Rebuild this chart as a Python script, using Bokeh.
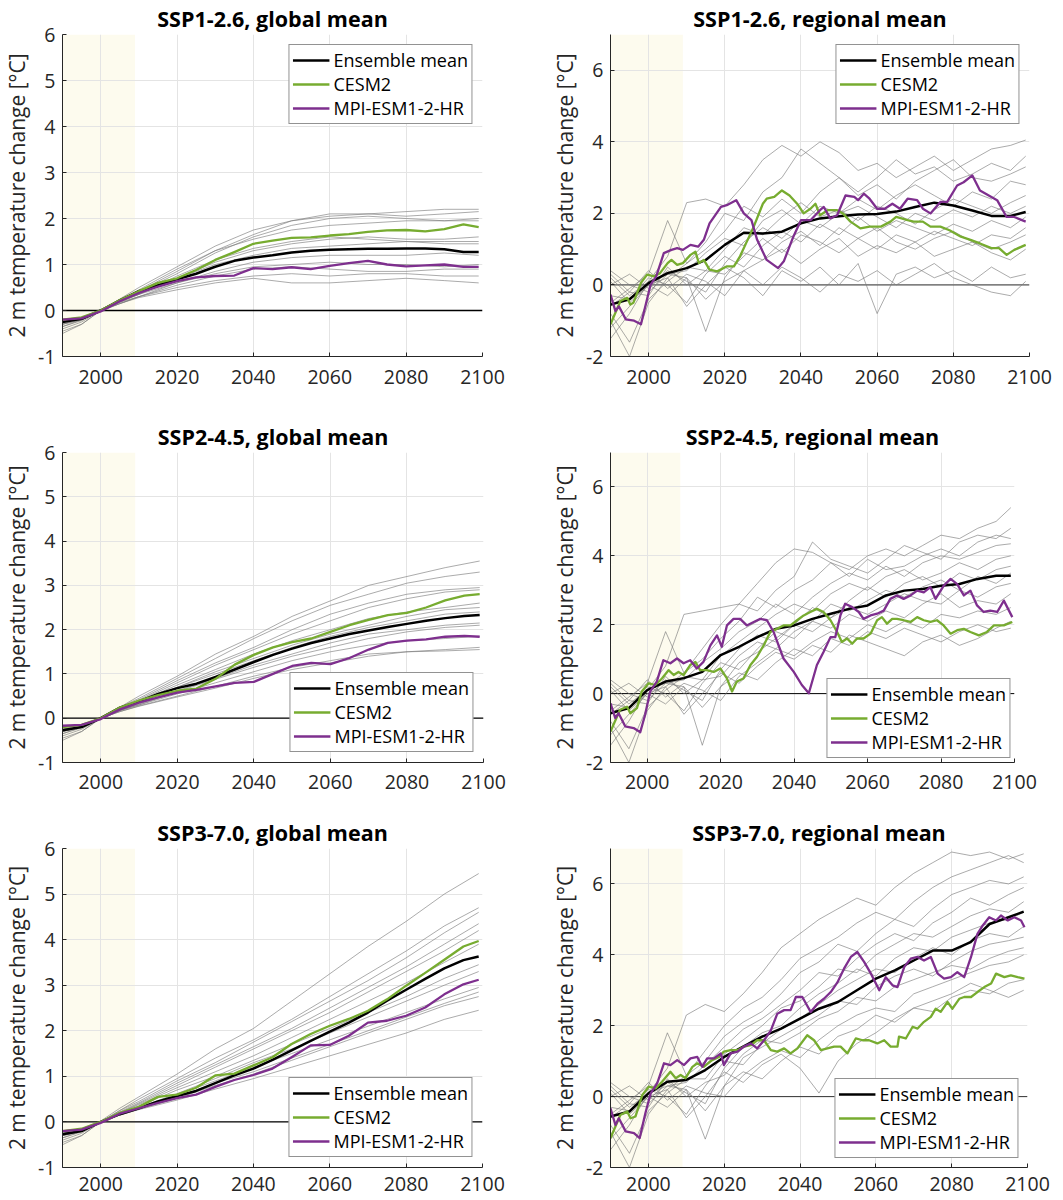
from bokeh.plotting import figure
from bokeh.layouts import column, row
from bokeh.models import Range1d, FixedTicker, BoxAnnotation, Span, Legend, LegendItem
from bokeh.embed import file_html
from bokeh.resources import INLINE

FONT = "Open Sans"
TXT = "#262626"
C_MEAN = "#000000"
C_CESM = "#77AC30"
C_MPI = "#7E2F8E"
C_MEMBER = "#7a7a7a"
SHADE = "#FDFBEE"
GRID = "#e4e4e4"

shade_start = 1990
shade_end = 2009
x_ticks = [2000, 2020, 2040, 2060, 2080, 2100]
y_ticks_global = [-1, 0, 1, 2, 3, 4, 5, 6]
y_ticks_regional = [-2, 0, 2, 4, 6]

titles = ["SSP1-2.6, global mean", "SSP1-2.6, regional mean",
          "SSP2-4.5, global mean", "SSP2-4.5, regional mean",
          "SSP3-7.0, global mean", "SSP3-7.0, regional mean"]
legend_labels = ["Ensemble mean", "CESM2", "MPI-ESM1-2-HR"]
y_label = "2 m temperature change [°C]"

# common year grids
years_5 = [1990, 1995, 2000, 2005, 2010, 2015, 2020, 2025, 2030, 2035, 2040, 2045,
           2050, 2055, 2060, 2065, 2070, 2075, 2080, 2085, 2090, 2095, 2099]
years_members_global = [1990, 1995, 2000, 2005, 2010, 2020, 2030, 2040, 2050, 2060,
                        2070, 2080, 2090, 2099]

# ---------------- global means ----------------
g126_mean = [-0.25, -0.18, 0.0, 0.22, 0.42, 0.55, 0.68, 0.8, 0.95, 1.08, 1.15, 1.2,
             1.26, 1.3, 1.32, 1.33, 1.34, 1.34, 1.35, 1.35, 1.33, 1.27, 1.27]
g126_cesm = [-0.2, -0.15, 0.0, 0.22, 0.42, 0.6, 0.7, 0.88, 1.1, 1.27, 1.45, 1.52,
             1.58, 1.59, 1.63, 1.66, 1.71, 1.74, 1.75, 1.72, 1.77, 1.87, 1.81]
g126_mpi = [-0.2, -0.17, -0.02, 0.2, 0.38, 0.52, 0.64, 0.72, 0.75, 0.76, 0.92, 0.9,
            0.94, 0.9, 0.97, 1.03, 1.08, 1.0, 0.96, 0.98, 1.0, 0.95, 0.95]
g126_members = [
    [-0.35, -0.2, 0.0, 0.25, 0.5, 0.95, 1.4, 1.75, 1.95, 2.05, 2.1, 2.15, 2.2, 2.2],
    [-0.3, -0.15, 0.02, 0.22, 0.45, 0.9, 1.3, 1.65, 1.95, 2.1, 2.1, 2.05, 2.1, 2.15],
    [-0.25, -0.2, -0.02, 0.2, 0.4, 0.8, 1.25, 1.6, 1.85, 2.0, 2.05, 2.0, 1.95, 2.0],
    [-0.4, -0.25, 0.0, 0.22, 0.42, 0.85, 1.3, 1.55, 1.75, 1.85, 1.9, 1.95, 1.95, 1.95],
    [-0.2, -0.15, 0.0, 0.2, 0.35, 0.7, 1.05, 1.3, 1.45, 1.55, 1.6, 1.55, 1.55, 1.6],
    [-0.3, -0.2, 0.0, 0.18, 0.35, 0.75, 1.1, 1.35, 1.5, 1.6, 1.55, 1.5, 1.5, 1.5],
    [-0.25, -0.15, 0.0, 0.2, 0.38, 0.7, 1.0, 1.2, 1.35, 1.4, 1.45, 1.5, 1.45, 1.45],
    [-0.3, -0.2, -0.02, 0.15, 0.3, 0.6, 0.85, 1.05, 1.15, 1.2, 1.2, 1.2, 1.25, 1.2],
    [-0.45, -0.3, 0.0, 0.2, 0.35, 0.6, 0.8, 0.95, 1.0, 1.05, 1.0, 1.0, 0.95, 1.0],
    [-0.25, -0.18, 0.0, 0.15, 0.3, 0.55, 0.75, 0.9, 0.95, 0.9, 0.85, 0.85, 0.9, 0.9],
    [-0.35, -0.22, 0.0, 0.18, 0.3, 0.5, 0.65, 0.75, 0.8, 0.75, 0.8, 0.8, 0.75, 0.75],
    [-0.5, -0.3, 0.0, 0.15, 0.28, 0.45, 0.6, 0.7, 0.6, 0.6, 0.65, 0.7, 0.65, 0.6],
]

g245_mean = [-0.27, -0.2, 0.0, 0.24, 0.38, 0.55, 0.68, 0.78, 0.93, 1.1, 1.27, 1.43,
             1.57, 1.7, 1.8, 1.9, 1.98, 2.06, 2.13, 2.2, 2.26, 2.31, 2.33]
g245_cesm = [-0.2, -0.15, 0.0, 0.24, 0.4, 0.52, 0.62, 0.67, 0.89, 1.21, 1.43, 1.6,
             1.72, 1.8, 1.95, 2.1, 2.22, 2.33, 2.38, 2.5, 2.66, 2.77, 2.8]
g245_mpi = [-0.17, -0.15, -0.02, 0.2, 0.35, 0.47, 0.58, 0.64, 0.72, 0.8, 0.82, 1.0,
            1.18, 1.25, 1.22, 1.36, 1.55, 1.7, 1.75, 1.78, 1.84, 1.86, 1.84]
g245_members = [
    [-0.35, -0.2, 0.0, 0.25, 0.5, 0.95, 1.45, 1.85, 2.3, 2.65, 3.0, 3.2, 3.4, 3.55],
    [-0.3, -0.18, 0.02, 0.25, 0.45, 0.9, 1.35, 1.8, 2.2, 2.55, 2.8, 3.05, 3.2, 3.3],
    [-0.25, -0.15, 0.0, 0.22, 0.42, 0.85, 1.25, 1.6, 2.0, 2.35, 2.6, 2.8, 2.9, 2.95],
    [-0.4, -0.25, 0.0, 0.2, 0.4, 0.8, 1.2, 1.55, 1.9, 2.2, 2.5, 2.7, 2.85, 2.9],
    [-0.3, -0.2, 0.0, 0.2, 0.38, 0.75, 1.1, 1.45, 1.75, 2.0, 2.25, 2.4, 2.5, 2.6],
    [-0.2, -0.15, 0.0, 0.2, 0.35, 0.7, 1.05, 1.35, 1.65, 1.9, 2.1, 2.3, 2.45, 2.5],
    [-0.3, -0.2, -0.02, 0.18, 0.35, 0.7, 1.0, 1.3, 1.6, 1.85, 2.05, 2.2, 2.35, 2.4],
    [-0.35, -0.22, 0.0, 0.18, 0.32, 0.62, 0.9, 1.2, 1.45, 1.7, 1.9, 2.0, 2.1, 2.15],
    [-0.25, -0.18, 0.0, 0.17, 0.3, 0.6, 0.88, 1.15, 1.4, 1.6, 1.8, 1.95, 2.05, 2.1],
    [-0.45, -0.3, 0.0, 0.18, 0.3, 0.55, 0.8, 1.05, 1.3, 1.5, 1.65, 1.75, 1.8, 1.85],
    [-0.3, -0.2, 0.0, 0.15, 0.28, 0.5, 0.72, 0.95, 1.15, 1.3, 1.45, 1.5, 1.55, 1.6],
    [-0.5, -0.3, 0.0, 0.15, 0.27, 0.48, 0.68, 0.9, 1.1, 1.25, 1.4, 1.5, 1.52, 1.55],
]

g370_mean = [-0.27, -0.2, 0.0, 0.17, 0.3, 0.45, 0.57, 0.68, 0.85, 1.02, 1.17, 1.36,
             1.57, 1.78, 1.98, 2.18, 2.4, 2.66, 2.9, 3.14, 3.37, 3.55, 3.63]
g370_cesm = [-0.2, -0.15, 0.0, 0.2, 0.33, 0.55, 0.6, 0.75, 1.02, 1.06, 1.24, 1.42,
             1.71, 1.93, 2.11, 2.26, 2.44, 2.69, 2.99, 3.27, 3.56, 3.85, 3.97]
g370_mpi = [-0.2, -0.17, -0.02, 0.18, 0.3, 0.42, 0.52, 0.6, 0.77, 0.92, 1.03, 1.17,
            1.42, 1.68, 1.69, 1.89, 2.18, 2.22, 2.33, 2.51, 2.8, 3.02, 3.12]
g370_members = [
    [-0.3, -0.15, 0.02, 0.3, 0.55, 1.05, 1.6, 2.05, 2.65, 3.25, 3.85, 4.4, 5.0, 5.45],
    [-0.35, -0.2, 0.0, 0.25, 0.5, 0.95, 1.4, 1.8, 2.25, 2.75, 3.25, 3.75, 4.3, 4.7],
    [-0.25, -0.15, 0.0, 0.25, 0.45, 0.9, 1.3, 1.75, 2.2, 2.65, 3.1, 3.6, 4.15, 4.6],
    [-0.4, -0.25, 0.0, 0.22, 0.42, 0.85, 1.25, 1.65, 2.05, 2.5, 2.95, 3.4, 3.9, 4.35],
    [-0.3, -0.2, 0.0, 0.2, 0.4, 0.8, 1.2, 1.6, 2.0, 2.4, 2.85, 3.3, 3.75, 4.2],
    [-0.2, -0.15, 0.0, 0.2, 0.38, 0.75, 1.1, 1.45, 1.85, 2.25, 2.65, 3.05, 3.5, 3.9],
    [-0.3, -0.2, -0.02, 0.18, 0.35, 0.7, 1.0, 1.35, 1.7, 2.05, 2.4, 2.75, 3.15, 3.45],
    [-0.35, -0.22, 0.0, 0.18, 0.32, 0.62, 0.95, 1.3, 1.6, 1.95, 2.3, 2.65, 3.0, 3.3],
    [-0.25, -0.18, 0.0, 0.17, 0.3, 0.6, 0.9, 1.2, 1.5, 1.8, 2.1, 2.4, 2.7, 2.95],
    [-0.45, -0.3, 0.0, 0.18, 0.3, 0.55, 0.85, 1.1, 1.4, 1.7, 2.0, 2.3, 2.6, 2.85],
    [-0.3, -0.2, 0.0, 0.15, 0.28, 0.52, 0.8, 1.05, 1.35, 1.65, 1.95, 2.25, 2.55, 2.75],
    [-0.5, -0.3, 0.0, 0.15, 0.27, 0.48, 0.72, 0.95, 1.2, 1.45, 1.7, 1.95, 2.25, 2.45],
]

# ---------------- regional means ----------------
r126_mean = [-0.55, -0.4, 0.05, 0.33, 0.47, 0.7, 1.12, 1.46, 1.44, 1.49, 1.72, 1.86,
             1.92, 1.97, 1.98, 2.05, 2.18, 2.3, 2.22, 2.08, 1.93, 1.93, 2.04]
r126_cesm_years = [1990, 1992.6, 1994.4, 1995.2, 1996, 1998, 1999.6, 2001.4, 2003, 2005,
                   2006, 2007.5, 2009, 2011, 2012.3, 2013.2, 2014.5, 2016, 2018, 2020.6,
                   2022.4, 2024, 2026, 2027.6, 2030, 2031, 2033, 2035, 2037, 2039,
                   2040.7, 2042.5, 2043.8, 2045, 2047, 2049.5, 2051, 2053, 2055.6, 2058,
                   2061, 2063.5, 2065, 2068, 2069.6, 2072, 2074, 2076.6, 2079, 2082,
                   2084.5, 2087, 2090, 2092, 2094, 2096, 2099]
r126_cesm = [-1.1, -0.45, -0.36, -0.55, -0.5, 0.06, 0.29, 0.24, 0.33, 0.61,
             0.7, 0.56, 0.61, 0.84, 0.93, 0.61, 0.7, 0.43, 0.38, 0.52,
             0.52, 0.8, 1.26, 1.63, 2.27, 2.41, 2.46, 2.64, 2.5, 2.27,
             2.0, 2.13, 2.27, 1.95, 2.09, 2.09, 2.0, 1.77, 1.58, 1.63,
             1.63, 1.77, 1.9, 1.81, 1.77, 1.77, 1.63, 1.63, 1.53, 1.35,
             1.26, 1.16, 1.03, 1.03, 0.84, 0.98, 1.12]
r126_mpi_years = [1990, 1991.3, 1992.2, 1994, 1996.2, 1998, 2000.5, 2002, 2004, 2006,
                  2007.5, 2009, 2011, 2013, 2014.5, 2016, 2019, 2020.5, 2023, 2025,
                  2027, 2028.5, 2031, 2034, 2035.5, 2038, 2040, 2042.5, 2045, 2046,
                  2047.7, 2049.5, 2051.7, 2054, 2055, 2056.5, 2058, 2060, 2062, 2064,
                  2066, 2068, 2070.5, 2072, 2074, 2076.6, 2078.4, 2081, 2082.7, 2085,
                  2087, 2090, 2091.5, 2094, 2096, 2099]
r126_mpi = [-0.27, -0.73, -0.6, -0.96, -1.0, -1.1, 0.0, 0.24, 0.89, 0.98,
            1.03, 0.98, 1.12, 1.07, 1.26, 1.72, 2.18, 2.23, 2.37, 2.0,
            1.81, 1.26, 0.7, 0.47, 0.66, 1.35, 1.81, 1.81, 2.09, 2.18,
            1.86, 1.95, 2.5, 2.46, 2.37, 2.55, 2.41, 2.13, 2.13, 2.27,
            2.13, 2.41, 2.37, 2.13, 2.0, 2.32, 2.32, 2.78, 2.87, 3.06,
            2.64, 2.46, 2.37, 1.9, 1.9, 1.77]
r126_members = [
    [0.2, -0.3, 0.1, 0.8, 2.3, 2.4, 2.2, 2.8, 3.5, 3.9, 3.6, 4.0, 3.7, 3.2, 3.4, 3.0, 3.3, 3.6, 3.2, 3.5, 3.8, 3.9, 4.05],
    [-0.5, -0.1, 0.3, 1.8, 0.6, 1.2, 2.0, 1.8, 2.6, 3.0, 3.8, 3.4, 3.0, 2.6, 3.0, 3.5, 3.1, 3.3, 2.9, 3.1, 3.4, 3.2, 3.6],
    [-1.2, -0.6, 0.0, 0.2, 0.6, 1.0, 1.5, 2.2, 1.9, 2.4, 2.0, 2.6, 3.0, 2.5, 2.8, 2.4, 2.9, 3.2, 3.5, 3.0, 2.9, 3.1, 3.3],
    [0.4, 0.0, -0.2, 0.3, 0.4, 0.9, 1.3, 1.1, 1.8, 2.1, 1.7, 2.2, 2.0, 2.4, 2.1, 2.5, 2.8, 2.5, 2.2, 2.6, 2.4, 2.9, 2.8],
    [-0.8, -1.6, -0.4, 0.1, 0.5, 0.4, 1.0, 1.6, 1.4, 1.9, 2.3, 1.9, 2.1, 1.8, 2.2, 2.0, 1.7, 2.1, 2.4, 2.2, 2.0, 2.3, 2.5],
    [0.0, 0.3, -0.1, 0.4, 0.1, -0.2, 0.6, 1.2, 1.6, 1.3, 1.8, 1.6, 2.0, 2.2, 1.9, 1.6, 2.0, 1.8, 2.1, 1.9, 2.2, 2.0, 2.2],
    [-0.3, -0.4, 0.2, 0.0, -0.5, 0.3, 0.8, 0.5, 1.1, 1.5, 1.2, 1.7, 1.4, 1.9, 1.5, 1.8, 1.6, 1.4, 1.7, 1.5, 1.8, 1.6, 1.9],
    [-1.5, -0.8, 0.1, 0.3, 0.2, -1.3, 0.2, 0.9, 0.7, 1.2, 1.5, 1.1, 1.6, 1.3, 1.0, 1.4, 1.2, 1.5, 1.3, 1.1, 1.4, 1.3, 1.6],
    [0.3, -0.2, -0.3, 0.5, 0.0, 0.4, 0.3, 0.8, 1.3, 0.9, 1.4, 1.2, 0.9, 1.3, 1.6, 1.2, 1.0, 1.3, 1.5, 1.2, 1.0, 1.2, 1.4],
    [-0.6, -0.2, 0.4, -0.1, 0.3, 0.1, -0.3, 0.4, 0.7, 1.0, 0.6, 1.0, 1.3, 0.8, 1.1, 0.9, 1.2, 0.8, 1.0, 1.2, 0.9, 0.7, 1.0],
    [-1.0, -2.0, -0.5, 0.2, -0.6, 0.0, 0.5, 0.2, -0.3, 0.4, 0.1, 0.5, 0.0, 0.6, -0.8, 0.3, 0.5, 0.2, 0.4, 0.1, 0.5, 0.2, 0.3],
    [0.1, -0.5, 0.0, -0.3, 0.2, -0.4, 0.1, 0.4, 0.0, 0.5, 0.2, -0.2, 0.3, 0.1, 0.4, 0.0, 0.3, 0.6, 0.2, 0.0, -0.2, -0.3, 0.1],
]

r245_mean = [-0.57, -0.42, 0.1, 0.35, 0.45, 0.63, 1.12, 1.36, 1.64, 1.88, 1.98, 2.17,
             2.32, 2.46, 2.56, 2.85, 2.99, 3.04, 3.13, 3.18, 3.33, 3.42, 3.42]
r245_cesm_years = [1990, 1992.6, 1994.5, 1995.4, 1997.2, 1998.5, 2000.4, 2002.2, 2004, 2005.8,
                   2007.2, 2008.5, 2009.9, 2011.7, 2013.1, 2014.4, 2016.2, 2018.1, 2019.9, 2021.7,
                   2023.1, 2024.4, 2026.2, 2028.1, 2029.9, 2031.7, 2033.5, 2035.3, 2037.1, 2039,
                   2040.8, 2042.6, 2044.4, 2046.2, 2048, 2049.9, 2051.7, 2053, 2054.4, 2055.8,
                   2057.1, 2058.9, 2060.8, 2062.6, 2063.9, 2065.3, 2066.7, 2068, 2069.8, 2071.7,
                   2073.5, 2075.3, 2077.1, 2078.9, 2080.7, 2082.6, 2084.4, 2086.2, 2088, 2090.3,
                   2092.5, 2094.4, 2097.1, 2099.4]
r245_cesm = [-1.1, -0.47, -0.38, -0.57, -0.42, 0.06, 0.3, 0.25, 0.44, 0.68,
             0.54, 0.63, 0.54, 0.83, 0.92, 0.68, 0.68, 0.63, 0.73, 0.44,
             0.06, 0.35, 0.44, 0.83, 1.07, 1.4, 1.79, 1.88, 1.98, 1.98,
             2.13, 2.27, 2.37, 2.46, 2.37, 2.13, 1.79, 1.5, 1.6, 1.45,
             1.6, 1.6, 1.74, 2.13, 2.22, 2.03, 2.17, 2.17, 2.13, 2.08,
             2.22, 2.13, 2.08, 2.13, 1.98, 1.74, 1.84, 1.88, 1.79, 1.69,
             1.79, 1.98, 1.98, 2.08]
r245_mpi_years = [1990, 1991.3, 1992.2, 1994, 1996.3, 1998.1, 1999.4, 2000.8, 2002.6, 2004.4,
                  2006.3, 2008.1, 2009.9, 2011.7, 2013.5, 2015.3, 2017.2, 2019, 2020.3, 2021.7,
                  2023.5, 2025.3, 2027.1, 2029, 2030.8, 2032.6, 2034.4, 2037.1, 2039.9, 2042.1,
                  2044, 2046.2, 2048, 2049.9, 2051.2, 2052.6, 2053.9, 2055.8, 2057.6, 2058.9,
                  2060.8, 2062.6, 2064.4, 2066.2, 2068, 2069.8, 2071.7, 2073.5, 2075.3, 2077.1,
                  2078.5, 2080.7, 2082.6, 2084.4, 2086.2, 2088, 2089.8, 2091.6, 2093.4, 2095.3,
                  2097.1, 2099.4]
r245_mpi = [-0.28, -0.71, -0.57, -0.95, -1.0, -1.12, -0.62, 0.06, 0.35, 0.97,
            0.88, 1.02, 0.88, 0.97, 0.73, 0.92, 1.4, 1.69, 1.36, 1.98,
            2.17, 2.17, 1.98, 2.08, 2.17, 2.13, 1.79, 1.02, 0.63, 0.25,
            0.01, 0.83, 1.21, 1.64, 1.64, 2.27, 2.61, 2.51, 2.37, 2.17,
            2.27, 2.32, 2.41, 2.75, 2.85, 2.75, 2.85, 2.99, 2.94, 3.09,
            2.75, 3.13, 3.33, 3.18, 2.85, 2.99, 2.56, 2.37, 2.41, 2.37,
            2.7, 2.22]
r245_members = [
    [0.2, -0.3, 0.1, 0.8, 2.3, 2.4, 2.5, 2.6, 3.2, 3.8, 4.2, 4.1, 3.8, 3.6, 4.0, 4.2, 4.0, 4.3, 4.6, 4.5, 4.8, 5.0, 5.4],
    [-0.5, -0.1, 0.3, 1.8, 0.6, 1.3, 2.0, 2.6, 2.4, 3.0, 3.4, 4.4, 3.9, 3.7, 3.5, 3.9, 4.3, 4.1, 3.9, 4.4, 4.6, 4.5, 4.8],
    [-1.2, -0.6, 0.0, 0.2, 0.6, 1.0, 1.6, 2.1, 2.8, 2.5, 3.0, 3.3, 3.8, 3.4, 3.9, 3.6, 3.7, 4.0, 4.2, 4.0, 4.4, 4.6, 4.5],
    [0.4, 0.0, -0.2, 0.3, 0.4, 0.9, 1.3, 1.8, 2.1, 2.6, 2.3, 2.8, 3.2, 3.5, 3.3, 3.7, 3.4, 3.8, 4.0, 3.9, 4.1, 4.3, 4.35],
    [-0.8, -1.6, -0.4, 0.1, 0.5, 0.4, 1.1, 1.5, 1.9, 2.3, 2.6, 2.4, 2.9, 3.2, 3.0, 3.4, 3.6, 3.3, 3.5, 3.8, 3.6, 3.9, 4.0],
    [0.0, 0.3, -0.1, 0.4, 0.1, -0.2, 0.7, 1.3, 1.7, 1.5, 2.0, 2.5, 2.2, 2.7, 3.1, 2.8, 3.2, 3.4, 3.1, 3.5, 3.3, 3.6, 3.7],
    [-0.3, -0.4, 0.2, 0.0, -0.5, 0.3, 0.9, 0.7, 1.3, 1.8, 1.6, 2.1, 2.6, 2.4, 2.7, 3.0, 2.8, 3.1, 3.3, 3.0, 3.4, 3.2, 3.5],
    [-1.5, -0.8, 0.1, 0.3, 0.2, -1.5, 0.2, 0.9, 1.2, 1.6, 2.0, 1.8, 2.2, 2.5, 2.3, 2.6, 2.9, 2.7, 2.6, 3.0, 2.8, 3.1, 3.2],
    [0.3, -0.2, -0.3, 0.5, 0.0, 0.4, 0.5, 1.1, 1.5, 1.3, 1.8, 2.1, 1.9, 2.3, 2.1, 2.4, 2.2, 2.6, 2.9, 2.5, 2.7, 2.6, 2.9],
    [-0.6, -0.2, 0.4, -0.1, 0.3, 0.1, -0.2, 0.5, 0.9, 1.3, 1.1, 1.5, 1.8, 1.6, 2.0, 1.8, 2.1, 1.9, 2.3, 2.2, 2.4, 2.3, 2.5],
    [-1.0, -2.0, -0.5, 0.2, -0.6, 0.0, 0.6, 0.3, 0.8, 1.2, 1.0, 1.4, 1.2, 1.7, 1.5, 1.3, 1.1, 1.5, 1.7, 1.4, 1.6, 1.9, 2.1],
    [0.1, -0.5, 0.0, -0.3, 0.2, -0.4, 0.2, 0.6, 0.4, 0.9, 1.3, 1.1, 1.6, 1.4, 1.8, 1.6, 1.9, 1.7, 1.5, 1.8, 2.0, 1.8, 1.9],
]

r370_mean = [-0.56, -0.42, 0.09, 0.42, 0.47, 0.75, 1.12, 1.41, 1.69, 1.92, 2.2, 2.48,
             2.67, 3.0, 3.33, 3.56, 3.84, 4.12, 4.12, 4.36, 4.87, 5.06, 5.22]
r370_cesm_years = [1990, 1992.6, 1994.4, 1995.3, 1996.6, 1998.4, 2000.1, 2001.9, 2003.6, 2005.8,
                   2007.2, 2008.5, 2009.8, 2011.6, 2012.9, 2014.6, 2016.8, 2018.6, 2019.9, 2021.7,
                   2023.5, 2025.2, 2027, 2028.7, 2030.5, 2032.3, 2034, 2035.8, 2037.5, 2039.3,
                   2041.9, 2043.7, 2045.5, 2047.2, 2049, 2050.7, 2052.5, 2054.7, 2056.5, 2058.2,
                   2060.4, 2062.2, 2063.9, 2065.7, 2066.1, 2067.9, 2069.7, 2071, 2072.7, 2074.5,
                   2075.8, 2077.1, 2078.9, 2080.2, 2082, 2083.3, 2085.1, 2086.8, 2088.6, 2090.4,
                   2091.7, 2093.9, 2095.6, 2097.4, 2099.2]
r370_cesm = [-1.17, -0.52, -0.42, -0.61, -0.56, 0.05, 0.28, 0.23, 0.42, 0.7,
             0.52, 0.61, 0.52, 0.84, 0.94, 0.84, 1.03, 1.12, 1.27, 1.31,
             1.31, 1.41, 1.45, 1.59, 1.59, 1.31, 1.27, 1.36, 1.22, 1.36,
             1.73, 1.59, 1.31, 1.36, 1.41, 1.41, 1.22, 1.64, 1.59, 1.59,
             1.5, 1.59, 1.41, 1.41, 1.69, 1.64, 1.97, 1.92, 2.11, 2.25,
             2.48, 2.39, 2.67, 2.48, 2.76, 2.81, 2.81, 2.95, 3.09, 3.19,
             3.47, 3.37, 3.42, 3.37, 3.33]
r370_mpi_years = [1990, 1991.3, 1992.2, 1994, 1996.2, 1997.7, 1999.2, 2000.6, 2002.3, 2004.1,
                  2005.8, 2007.6, 2009.4, 2011.1, 2012.9, 2014.2, 2015.5, 2017.3, 2019.1, 2019.9,
                  2021.7, 2023.5, 2025.2, 2027, 2028.7, 2030.5, 2032.3, 2034, 2035.8, 2037.5,
                  2038.9, 2040.6, 2042.8, 2044.6, 2046.3, 2048.1, 2049.9, 2051.6, 2053.4, 2055.1,
                  2056.9, 2058.7, 2060.9, 2062.6, 2064.4, 2065.7, 2067.5, 2069.2, 2071, 2072.7,
                  2074.5, 2076.3, 2078, 2079.8, 2081.5, 2083.3, 2085.1, 2086.8, 2088.2, 2089.9,
                  2091.7, 2093, 2094.8, 2096.5, 2098.3, 2099.2]
r370_mpi = [-0.33, -0.8, -0.61, -0.98, -1.03, -1.17, -0.47, 0.09, 0.37, 0.94,
            0.89, 1.03, 0.89, 1.08, 1.12, 0.84, 1.08, 1.08, 1.22, 0.89,
            1.22, 1.27, 1.41, 1.5, 1.36, 1.59, 1.87, 2.34, 2.44, 2.44,
            2.81, 2.81, 2.39, 2.62, 2.76, 2.95, 3.23, 3.61, 3.94, 4.08,
            3.8, 3.47, 3.0, 3.37, 3.14, 3.09, 3.66, 3.89, 3.94, 3.84,
            3.94, 3.47, 3.33, 3.37, 3.51, 3.37, 3.94, 4.59, 4.83, 5.06,
            4.97, 5.11, 4.97, 5.06, 4.97, 4.78]
r370_members = [
    [0.2, -0.3, 0.1, 0.8, 2.3, 2.6, 2.4, 2.9, 3.5, 4.2, 4.6, 5.0, 5.3, 5.6, 5.4, 5.9, 6.3, 6.6, 6.9, 6.8, 6.9, 6.7, 6.85],
    [-0.5, -0.1, 0.3, 1.8, 0.6, 1.3, 2.0, 2.5, 2.8, 3.3, 3.9, 4.2, 4.5, 4.9, 5.2, 5.0, 5.5, 5.9, 6.2, 6.4, 6.6, 6.8, 6.6],
    [-1.2, -0.6, 0.0, 0.2, 0.6, 1.0, 1.7, 2.1, 2.4, 2.9, 3.5, 3.8, 4.3, 4.1, 4.6, 5.0, 4.8, 5.3, 5.7, 5.9, 6.1, 6.0, 6.2],
    [0.4, 0.0, -0.2, 0.3, 0.4, 0.9, 1.4, 1.9, 2.2, 2.6, 3.0, 3.5, 3.4, 3.9, 4.3, 4.6, 4.4, 4.9, 5.2, 5.6, 5.4, 5.7, 5.9],
    [-0.8, -1.6, -0.4, 0.1, 0.5, 0.5, 1.2, 1.6, 2.0, 2.5, 2.7, 3.1, 3.6, 3.5, 4.0, 4.3, 4.6, 4.5, 4.8, 5.1, 5.3, 5.2, 5.5],
    [0.0, 0.3, -0.1, 0.4, 0.1, -0.2, 0.8, 1.4, 1.8, 2.0, 2.5, 2.9, 3.2, 3.6, 3.4, 3.9, 4.2, 4.1, 4.5, 4.7, 4.9, 5.0, 5.2],
    [-0.3, -0.4, 0.2, 0.0, -0.5, 0.3, 1.0, 0.9, 1.5, 1.9, 2.2, 2.6, 3.0, 3.3, 3.6, 3.5, 3.9, 4.2, 4.0, 4.4, 4.6, 4.5, 4.8],
    [-1.5, -0.8, 0.1, 0.3, 0.2, -1.2, 0.3, 1.1, 1.4, 1.7, 2.0, 2.3, 2.7, 2.6, 3.1, 3.4, 3.6, 3.4, 3.8, 4.1, 4.3, 4.4, 4.5],
    [0.3, -0.2, -0.3, 0.5, 0.0, 0.4, 0.6, 1.2, 1.6, 1.5, 1.8, 2.2, 2.4, 2.8, 2.7, 3.1, 3.3, 3.5, 3.7, 3.6, 3.9, 4.1, 4.2],
    [-0.6, -0.2, 0.4, -0.1, 0.3, 0.1, 0.0, 0.6, 1.0, 1.3, 1.1, 1.6, 2.0, 2.3, 2.5, 2.4, 2.9, 3.1, 3.3, 3.5, 3.7, 3.8, 4.0],
    [-1.0, -2.0, -0.5, 0.2, -0.6, 0.0, 0.7, 0.4, 0.9, 1.2, 0.8, 0.1, 1.0, 1.5, 1.8, 2.2, 2.5, 2.4, 2.8, 3.0, 2.9, 3.2, 3.3],
    [0.1, -0.5, 0.0, -0.3, 0.2, -0.4, 0.3, 0.7, 0.5, 1.0, 1.4, 1.2, 1.7, 1.9, 2.3, 2.1, 2.5, 2.7, 2.9, 3.2, 3.0, 2.8, 3.0],
]


def trim(x, y):
    n = min(len(x), len(y))
    return list(x[:n]), list(y[:n])


def panel(title, ylim, yticks, mem_years, members, mean_x, mean_y, cesm_x, cesm_y,
          mpi_x, mpi_y, size, x_standoff, legend_loc, legend_margin, zero_color, zero_width):
    w, h, bl, br, bt, bb = size
    p = figure(width=w, height=h, x_range=Range1d(1990, 2100), y_range=Range1d(*ylim),
               output_backend="svg", toolbar_location=None,
               min_border_left=bl, min_border_right=br, min_border_top=bt,
               min_border_bottom=bb, background_fill_color="white",
               border_fill_color="white")
    p.outline_line_color = None
    p.add_layout(BoxAnnotation(left=shade_start, right=shade_end, fill_color=SHADE,
                               fill_alpha=1.0, line_color=None, level="image"))
    p.xgrid.ticker = FixedTicker(ticks=x_ticks)
    p.ygrid.ticker = FixedTicker(ticks=yticks)
    for g in (p.xgrid, p.ygrid):
        g.grid_line_color = GRID
        g.grid_line_width = 1
    p.xaxis.ticker = FixedTicker(ticks=x_ticks)
    p.yaxis.ticker = FixedTicker(ticks=yticks)
    p.yaxis.major_label_overrides = {t: ("-" + str(abs(t)) if t < 0 else str(t)) for t in yticks}
    p.yaxis.axis_label = y_label
    for ax in p.axis:
        ax.axis_line_color = TXT
        ax.axis_line_width = 1
        ax.major_tick_line_color = TXT
        ax.major_tick_in = 4
        ax.major_tick_out = 0
        ax.minor_tick_line_color = None
        ax.major_label_text_font = FONT
        ax.major_label_text_font_size = "19.5px"
        ax.major_label_text_color = TXT
        ax.axis_label_text_font = FONT
        ax.axis_label_text_font_size = "21px"
        ax.axis_label_text_font_style = "normal"
        ax.axis_label_text_color = TXT
        ax.axis_label_standoff = 4
    p.xaxis.major_label_standoff = x_standoff
    p.yaxis.major_label_standoff = 7

    p.title.text = title
    p.title.align = "center"
    p.title.text_font = FONT
    p.title.text_font_size = "21.5px"
    p.title.text_font_style = "bold"
    p.title.text_color = "#000000"
    p.title.standoff = 3

    p.add_layout(Span(location=0, dimension="width", line_color=zero_color,
                      line_width=zero_width, level="underlay"))

    for m in members:
        mx, my = trim(mem_years, m)
        p.line(mx, my, line_color=C_MEMBER, line_alpha=0.85, line_width=0.75,
               line_join="round")

    x, y = trim(mean_x, mean_y)
    r_mean = p.line(x, y, line_color=C_MEAN, line_width=2.5, line_join="round")
    x, y = trim(cesm_x, cesm_y)
    r_cesm = p.line(x, y, line_color=C_CESM, line_width=2.3, line_join="round")
    x, y = trim(mpi_x, mpi_y)
    r_mpi = p.line(x, y, line_color=C_MPI, line_width=2.3, line_join="round")

    legend = Legend(items=[LegendItem(label=legend_labels[0], renderers=[r_mean]),
                           LegendItem(label=legend_labels[1], renderers=[r_cesm]),
                           LegendItem(label=legend_labels[2], renderers=[r_mpi])],
                    location=legend_loc, margin=legend_margin,
                    border_line_color=TXT, border_line_width=1,
                    background_fill_color="white", background_fill_alpha=1.0,
                    label_text_font=FONT, label_text_font_size="18px",
                    label_text_line_height=0.85,
                    label_text_color="#000000", glyph_width=37, glyph_height=18,
                    label_height=18, label_standoff=4, padding=3, spacing=0)
    p.add_layout(legend)
    return p


p1 = panel(titles[0], (-1, 6), y_ticks_global, years_members_global, g126_members,
           years_5, g126_mean, years_5, g126_cesm, years_5, g126_mpi,
           (530, 400, 60, 48, 33, 44), 13, "top_right", 10, "#000000", 1.3)
p2 = panel(titles[1], (-2, 7), y_ticks_regional, years_5, r126_members,
           years_5, r126_mean, r126_cesm_years, r126_cesm, r126_mpi_years, r126_mpi,
           (533, 400, 80, 34, 34, 43), 13, "top_right", 10, "#333333", 1.0)
p3 = panel(titles[2], (-1, 6), y_ticks_global, years_members_global, g245_members,
           years_5, g245_mean, years_5, g245_cesm, years_5, g245_mpi,
           (530, 400, 60, 47, 39, 38), 12, "bottom_right", 10, "#000000", 1.3)
p4 = panel(titles[3], (-2, 7), y_ticks_regional, years_5, r245_members,
           years_5, r245_mean, r245_cesm_years, r245_cesm, r245_mpi_years, r245_mpi,
           (533, 400, 80, 49, 52, 36), 12, "bottom_right", 4, "#000000", 1.0)
p5 = panel(titles[4], (-1, 6), y_ticks_global, years_members_global, g370_members,
           years_5, g370_mean, years_5, g370_cesm, years_5, g370_mpi,
           (530, 400, 60, 48, 44, 33), 9, "bottom_right", 10, "#000000", 1.3)
p6 = panel(titles[5], (-2, 7), y_ticks_regional, years_5, r370_members,
           years_5, r370_mean, r370_cesm_years, r370_cesm, r370_mpi_years, r370_mpi,
           (533, 400, 80, 36, 48, 32), 9, "bottom_right", 9, "#333333", 1.0)

layout = column(row(p1, p2, spacing=0), row(p3, p4, spacing=0), row(p5, p6, spacing=0),
                spacing=0)

open("out.html", "w").write(file_html(layout, INLINE))
